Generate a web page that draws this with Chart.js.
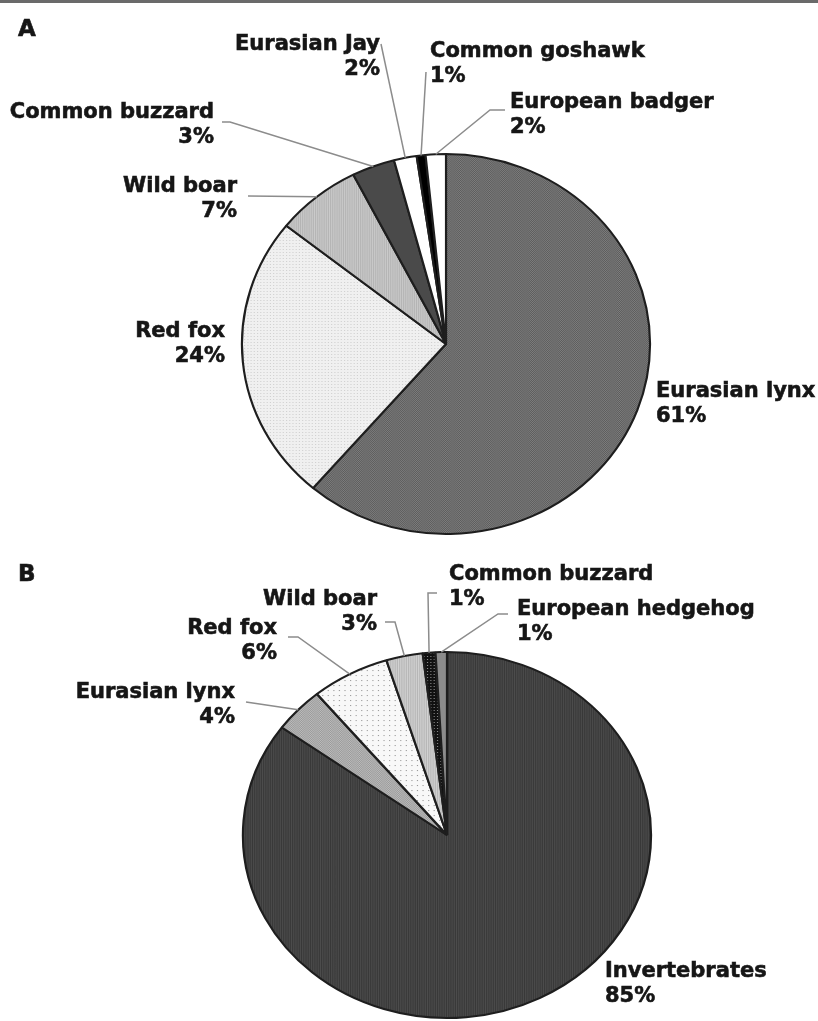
<!DOCTYPE html>
<html>
<head>
<meta charset="utf-8">
<script src="https://cdn.jsdelivr.net/npm/chart.js@4.4.1/dist/chart.umd.min.js"></script>
<style>
  html, body { margin: 0; padding: 0; background: #fff; }
  body { width: 818px; height: 1021px; position: relative; overflow: hidden; font-family: "DejaVu Sans", sans-serif; }
  .topline { position: absolute; left: 0; top: 0; width: 818px; height: 3px; background: #6a6a6a; }
  .panel { position: absolute; left: 0; width: 818px; }
  .letter { position: absolute; left: 18px; font: bold 23px "DejaVu Sans", sans-serif; color: #161616; line-height: 1; -webkit-text-stroke: 0.6px #161616; }
</style>
</head>
<body>
<div class="topline"></div>
<div class="panel" style="top:0;height:545px"><canvas id="pieA"></canvas></div>
<div class="panel" style="top:545px;height:476px"><canvas id="pieB"></canvas></div>
<div class="letter" style="top:17px">A</div>
<div class="letter" style="top:562px">B</div>
<script>
// panel A - share of kills by species
const labelsA = ["Eurasian lynx", "Red fox", "Wild boar", "Common buzzard", "Eurasian Jay", "Common goshawk", "European badger"];
const valuesA = [61.3, 24.4, 6.8, 3.4, 1.8, 0.7, 1.6];

// panel B
const labelsB = ["Invertebrates", "Eurasian lynx", "Red fox", "Wild boar", "Common buzzard", "European hedgehog"];
const valuesB = [85.0, 4.0, 6.2, 2.9, 1.0, 0.9];

function pattern(size, base, draw) {
  const c = document.createElement("canvas");
  c.width = size; c.height = size;
  const g = c.getContext("2d");
  g.fillStyle = base;
  g.fillRect(0, 0, size, size);
  draw(g);
  return g.createPattern(c, "repeat");
}
const checker = (a, b) => pattern(2, a, g => { g.fillStyle = b; g.fillRect(0, 0, 1, 1); g.fillRect(1, 1, 1, 1); });
const vlines = (a, b) => pattern(2, a, g => { g.fillStyle = b; g.fillRect(0, 0, 1, 2); });
const dots = (size, a, b) => pattern(size, a, g => { g.fillStyle = b; g.fillRect(0, 0, 1, 1); });

const coloursA = [
  checker("#5c5c5c", "#7e7e7e"),
  dots(3, "#f0f0f0", "#cfcfcf"),
  vlines("#cacaca", "#b4b4b4"),
  "#4a4a4a",
  "#ffffff",
  "#000000",
  "#ffffff"
];
const coloursB = [
  vlines("#4c4c4c", "#383838"),
  checker("#9a9a9a", "#bcbcbc"),
  dots(5, "#f8f8f8", "#9a9a9a"),
  vlines("#d2d2d2", "#b6b6b6"),
  dots(3, "#111111", "#8a8a8a"),
  "#8c8c8c"
];

// the source figure is a little wider than tall, so the pie is stretched sideways
const stretch = {
  id: "stretch",
  beforeDatasetsDraw(chart, args, opts) {
    const arc = chart.getDatasetMeta(0).data[0];
    const ctx = chart.ctx;
    ctx.save();
    ctx.translate(arc.x, arc.y);
    ctx.scale(opts.sx, 1);
    ctx.translate(-arc.x, -arc.y);
  },
  afterDatasetsDraw(chart) {
    chart.ctx.restore();
  }
};

const callouts = {
  id: "callouts",
  afterDraw(chart, args, opts) {
    const ctx = chart.ctx;
    const values = chart.data.datasets[0].data;
    const total = values.reduce((a, b) => a + b, 0);
    const sx = chart.options.plugins.stretch.sx;
    const dy = opts.top;
    chart.getDatasetMeta(0).data.forEach((el, i) => {
      const spot = opts.spots[i];
      const p = el.getProps(["x", "y", "startAngle", "endAngle", "outerRadius"], true);
      const mid = (p.startAngle + p.endAngle) / 2;
      const x0 = p.x + Math.cos(mid) * p.outerRadius * sx;
      const y0 = p.y + Math.sin(mid) * p.outerRadius;
      if (spot.line) {
        ctx.save();
        ctx.strokeStyle = "#8c8c8c";
        ctx.lineWidth = 1.5;
        ctx.beginPath();
        ctx.moveTo(x0, y0);
        spot.line.forEach(pt => ctx.lineTo(pt[0], pt[1] - dy));
        ctx.stroke();
        ctx.restore();
      }
      ctx.save();
      ctx.fillStyle = "#161616";
      ctx.strokeStyle = "#161616";
      ctx.lineWidth = 0.6;
      ctx.font = "bold 21px 'DejaVu Sans'";
      ctx.textAlign = spot.align;
      ctx.textBaseline = "alphabetic";
      const pct = Math.round(values[i] / total * 100) + "%";
      [chart.data.labels[i], pct].forEach((txt, k) => {
        ctx.fillText(txt, spot.x, spot.y - dy + k * 25);
        ctx.strokeText(txt, spot.x, spot.y - dy + k * 25);
      });
      ctx.restore();
    });
  }
};

function pieChart(id, labels, values, colours, radius, sx, padding, top, spots) {
  return new Chart(document.getElementById(id).getContext("2d"), {
    type: "pie",
    data: {
      labels: labels,
      datasets: [{
        data: values,
        backgroundColor: colours,
        borderColor: "#1e1e1e",
        borderWidth: 2,
        radius: radius
      }]
    },
    options: {
      responsive: true,
      maintainAspectRatio: false,
      animation: false,
      layout: { padding: padding },
      plugins: {
        legend: { display: false },
        tooltip: { enabled: false },
        stretch: { sx: sx },
        callouts: { top: top, spots: spots }
      }
    },
    plugins: [stretch, callouts]
  });
}

pieChart("pieA", labelsA, valuesA, coloursA, 190, 1.074,
  { left: 84, right: 10, top: 148, bottom: 5 }, 0, [
    { x: 656, y: 397, align: "left" },
    { x: 225, y: 337, align: "right" },
    { x: 237, y: 192, align: "right", line: [[248, 196]] },
    { x: 214, y: 118, align: "right", line: [[230, 122], [222, 122]] },
    { x: 380, y: 50, align: "right", line: [[381, 44]] },
    { x: 430, y: 57, align: "left", line: [[426, 72]] },
    { x: 510, y: 108, align: "left", line: [[490, 110], [505, 110]] }
  ]);

pieChart("pieB", labelsB, valuesB, coloursB, 183, 1.115,
  { left: 86, right: 10, top: 106, bottom: 2 }, 545, [
    { x: 605, y: 977, align: "left" },
    { x: 235, y: 698, align: "right", line: [[246, 702]] },
    { x: 277, y: 634, align: "right", line: [[298, 637], [288, 637]] },
    { x: 377, y: 605, align: "right", line: [[395, 622], [385, 622]] },
    { x: 449, y: 580, align: "left", line: [[428, 593], [437, 593]] },
    { x: 517, y: 615, align: "left", line: [[498, 614], [508, 614]] }
  ]);
</script>
</body>
</html>
